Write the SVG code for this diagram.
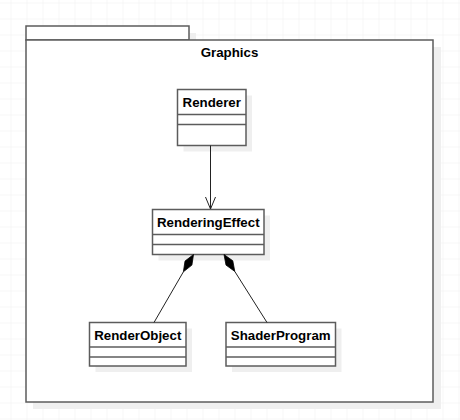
<svg xmlns="http://www.w3.org/2000/svg" width="460" height="420" viewBox="0 0 460 420">
<defs>
<pattern id="grid" x="10.5" y="2.5" width="16" height="16" patternUnits="userSpaceOnUse">
<path d="M0 0H16M0 0V16" fill="none" stroke="#eeeeee" stroke-width="1"/>
</pattern>
<marker id="open" markerWidth="14" markerHeight="14" refX="12" refY="6" orient="auto" markerUnits="userSpaceOnUse">
<path d="M0 1L12 6L0 11" fill="none" stroke="#222" stroke-width="1"/>
</marker>
</defs>
<style>
.shadow{fill:#efefef;stroke:none}
.box{fill:#fff;stroke:#5c5c5c;stroke-width:1.5}
.sep{stroke:#5c5c5c;stroke-width:1.5}
.t{font-family:"Liberation Sans",Arial,sans-serif;font-weight:bold;font-size:13.3px;text-anchor:middle;fill:#000}
.conn{stroke:#222;stroke-width:1;fill:none}
</style>
<rect width="460" height="420" fill="#fff"/>
<rect width="460" height="420" fill="url(#grid)"/>
<g id="package-Graphics">
<rect class="shadow" x="33" y="33" width="163" height="14"/>
<rect class="shadow" x="33" y="47" width="408" height="362"/>
<rect class="box" x="26" y="26" width="163" height="14"/>
<rect class="box" x="26" y="40" width="407" height="362"/>
<text class="t" x="229.5" y="57">Graphics</text>
</g>
<g id="Renderer">
<rect class="shadow" x="183.5" y="95.5" width="68.5" height="56"/>
<rect class="box" x="177.5" y="89.5" width="68.5" height="56"/>
<line class="sep" x1="177.5" y1="114.5" x2="246" y2="114.5"/>
<line class="sep" x1="177.5" y1="124.5" x2="246" y2="124.5"/>
<text class="t" x="211.75" y="106.5">Renderer</text>
</g>
<g id="RenderingEffect">
<rect class="shadow" x="158.5" y="215.5" width="111.5" height="45"/>
<rect class="box" x="152.5" y="209.5" width="111.5" height="45"/>
<line class="sep" x1="152.5" y1="234.5" x2="264" y2="234.5"/>
<line class="sep" x1="152.5" y1="244.5" x2="264" y2="244.5"/>
<text class="t" x="208.25" y="226.5">RenderingEffect</text>
</g>
<g id="RenderObject">
<rect class="shadow" x="95.5" y="328.5" width="96.5" height="43.5"/>
<rect class="box" x="89.5" y="322.5" width="96.5" height="43.5"/>
<line class="sep" x1="89.5" y1="347" x2="186" y2="347"/>
<line class="sep" x1="89.5" y1="357" x2="186" y2="357"/>
<text class="t" x="137.75" y="339.5">RenderObject</text>
</g>
<g id="ShaderProgram">
<rect class="shadow" x="232" y="328.5" width="109.5" height="43.5"/>
<rect class="box" x="226" y="322.5" width="109.5" height="43.5"/>
<line class="sep" x1="226" y1="347" x2="335.5" y2="347"/>
<line class="sep" x1="226" y1="357" x2="335.5" y2="357"/>
<text class="t" x="280.75" y="339.5">ShaderProgram</text>
</g>
<g id="connectors">
<line class="conn" x1="210.5" y1="145.5" x2="210.5" y2="209" marker-end="url(#open)"/>
<line class="conn" x1="183.4" y1="271.8" x2="154" y2="322.5"/>
<polygon points="193.5,254.5 191.9,265.1 183.4,271.8 185,261.1" fill="#000" stroke="#000" stroke-width="0.8"/>
<line class="conn" x1="234.75" y1="271.4" x2="267" y2="322.5"/>
<polygon points="224,254.5 232.8,260.8 234.75,271.4 226,265.1" fill="#000" stroke="#000" stroke-width="0.8"/>
</g>
</svg>
